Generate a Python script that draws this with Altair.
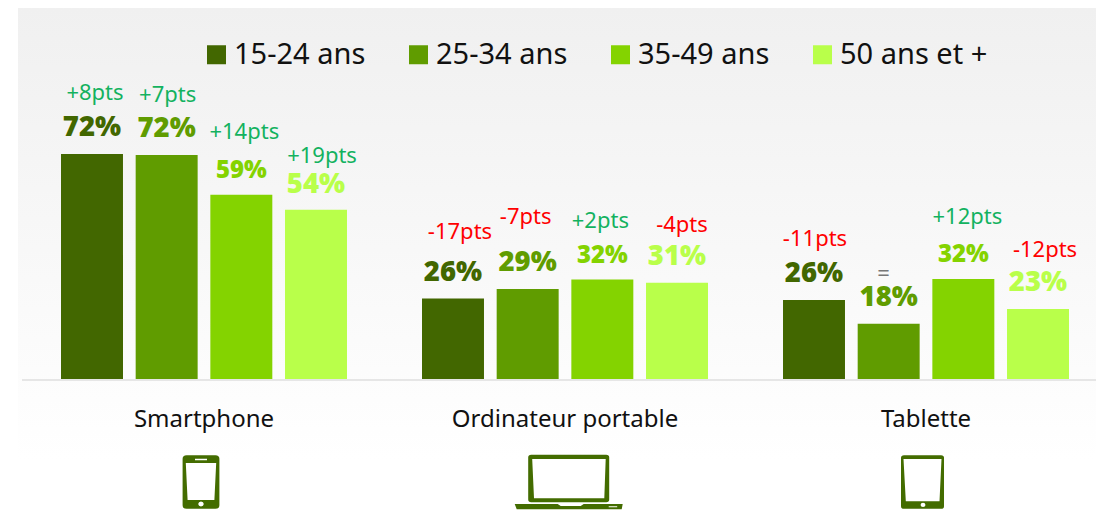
import altair as alt
import pandas as pd

categories = ["Smartphone", "Ordinateur portable", "Tablette"]
ages = ["15-24 ans", "25-34 ans", "35-49 ans", "50 ans et +"]
bar_values = [
    [72.0, 71.7, 59.0, 54.2],
    [26.0, 29.0, 32.0, 31.0],
    [25.5, 17.9, 32.2, 22.6],
]
value_labels = [
    ["72%", "72%", "59%", "54%"],
    ["26%", "29%", "32%", "31%"],
    ["26%", "18%", "32%", "23%"],
]
delta_labels = [
    ["+8pts", "+7pts", "+14pts", "+19pts"],
    ["-17pts", "-7pts", "+2pts", "-4pts"],
    ["-11pts", "=", "+12pts", "-12pts"],
]
colors = ["#426700", "#609C00", "#84D300", "#B9FF4A"]

# label placement relative to the top / centre of each bar, in pixels
value_gap = [[26, 26, 24, 25], [25, 26, 24, 26], [26, 26, 24, 26]]
value_dx = [[0, 0, 0, 0], [0, 0, 0, 0], [0, 0, 0, 0]]
value_size = [27.5, 27.5, 24, 27.5]
delta_gap = [[61, 60, 63, 54], [66, 72, 59, 58], [61, 50, 62, 59]]
delta_dx = [[3, 1, 3, 6], [7, -2, -2, 5], [1, -5, 4, 7]]

rows = []
for c, cat in enumerate(categories):
    for a, age in enumerate(ages):
        rows.append({"cat": cat, "age": age, "val": bar_values[c][a]})
df = pd.DataFrame(rows)

FONT = "Noto Sans"
x_enc = alt.X("cat:N", sort=categories, title=None,
              scale=alt.Scale(domain=categories, range=[53, 1061], paddingInner=0.2078, paddingOuter=0),
              axis=alt.Axis(domain=False, ticks=False, labelAngle=0, labelFont=FONT, labelFontSize=24,
                            labelColor="#111111", labelPadding=27, grid=False, zindex=1, labelLimit=400))
xo_enc = alt.XOffset("age:N", sort=ages,
                     scale=alt.Scale(domain=ages, paddingInner=0.17, paddingOuter=0))
y_enc = alt.Y("val:Q", title=None, axis=None, scale=alt.Scale(domain=[0, 118.5], range=[372, 0], nice=False))

layers = []

bg = alt.Chart(pd.DataFrame({"k": [0]})).mark_rect(
    color=alt.Gradient(gradient="linear", x1=0, x2=0, y1=0, y2=1,
                       stops=[alt.GradientStop(color="#F0F0F0", offset=0),
                              alt.GradientStop(color="#FFFFFF", offset=1)])
).encode(x=alt.value(10), x2=alt.value(1088), y=alt.value(0), y2=alt.value(452))
layers.append(bg)

bars = alt.Chart(df).mark_bar(cornerRadius=0).encode(
    x=x_enc, xOffset=xo_enc, y=y_enc,
    color=alt.Color("age:N", sort=ages,
                    scale=alt.Scale(domain=ages, range=colors),
                    legend=alt.Legend(orient="none", legendX=194, legendY=32, direction="horizontal",
                                      title=None, symbolType="square", symbolSize=361, symbolStrokeWidth=0,
                                      labelFont=FONT, labelFontSize=29, labelColor="#111111",
                                      labelOffset=3, columnPadding=38, columns=4, labelLimit=300)),
)
layers.append(bars)

base_line = alt.Chart(pd.DataFrame({"val": [0]})).mark_rule(color="#E6E6E6", strokeWidth=2).encode(
    y=alt.Y("val:Q", scale=alt.Scale(domain=[0, 118.5], range=[372, 0], nice=False), axis=None, title=None),
    x=alt.value(14), x2=alt.value(1088))
layers.append(base_line)

for c, cat in enumerate(categories):
    for a, age in enumerate(ages):
        one = pd.DataFrame([{"cat": cat, "age": age, "val": bar_values[c][a],
                             "vl": value_labels[c][a], "dl": delta_labels[c][a]}])
        layers.append(alt.Chart(one).mark_text(
            font="Open Sans", fontWeight=800, fontSize=value_size[a], color=colors[a], baseline="middle",
            dx=value_dx[c][a], dy=-value_gap[c][a]
        ).encode(x=x_enc, xOffset=xo_enc, y=y_enc, text="vl:N"))
        d = delta_labels[c][a]
        col = "#777777" if d == "=" else ("#13B25F" if d.startswith("+") else "#FF0000")
        layers.append(alt.Chart(one).mark_text(
            font=FONT, fontSize=22, color=col, baseline="middle",
            dx=delta_dx[c][a], dy=-delta_gap[c][a]
        ).encode(x=x_enc, xOffset=xo_enc, y=y_enc, text="dl:N"))

YS = 0.88  # icons are squeezed a little to stay inside the page


def P(pts):
    return "M" + "L".join(f"{x / 50:.4f},{y * YS / 50:.4f}" for x, y in pts) + "Z"


def rrect(hw, hh, r, cx=0, cy=0):
    x0, x1, y0, y1 = cx - hw, cx + hw, cy - hh, cy + hh
    s = lambda v: f"{v / 50:.4f}"
    t = lambda v: f"{v * YS / 50:.4f}"
    return (f"M{s(x0 + r)},{t(y0)}L{s(x1 - r)},{t(y0)}Q{s(x1)},{t(y0)},{s(x1)},{t(y0 + r)}"
            f"L{s(x1)},{t(y1 - r)}Q{s(x1)},{t(y1)},{s(x1 - r)},{t(y1)}"
            f"L{s(x0 + r)},{t(y1)}Q{s(x0)},{t(y1)},{s(x0)},{t(y1 - r)}"
            f"L{s(x0)},{t(y0 + r)}Q{s(x0)},{t(y0)},{s(x0 + r)},{t(y0)}Z")


def dot(cx, cy, r):
    return P([(cx - r, cy), (cx - .7 * r, cy + .7 * r), (cx, cy + r), (cx + .7 * r, cy + .7 * r),
              (cx + r, cy), (cx + .7 * r, cy - .7 * r), (cx, cy - r), (cx - .7 * r, cy - .7 * r)])


phone = (rrect(18.4, 30.3, 4)
         + P([(-15.2, -21.6), (-13.4, 20.4), (13.4, 20.4), (15.2, -21.6)])
         + P([(-6, -26.3), (-6, -24.7), (6, -24.7), (6, -26.3)])
         + dot(0, 25, 2.8))
laptop = (rrect(40.5, 27, 3, 0, -4)
          + P([(-36.5, -26), (-34.7, 18.5), (35.6, 18.5), (37, -26)])
          + P([(-54, 25), (-11, 25), (-8, 27.3), (12, 27.3), (15, 25), (54, 25), (53, 31), (-52, 31)])
          + P([(40, 27.6), (40, 28.6), (48.5, 28.6), (48.5, 27.6)]))
tablet = (rrect(21.5, 30.5, 3)
          + P([(-19, -26), (-16.7, 22), (17, 22), (19, -26)])
          + dot(0.5, 26, 2.5))
icons = [phone, laptop, tablet]
icon_dx = [-3, 3.7, -3.5]

for cat, path, idx in zip(categories, icons, icon_dx):
    layers.append(alt.Chart(pd.DataFrame({"cat": [cat]})).mark_point(
        shape=path, size=10000, filled=True, color="#436C00", opacity=1, strokeWidth=0, xOffset=idx
    ).encode(x=x_enc, y=alt.value(474)))

chart = alt.layer(*layers).properties(
    width=1088, height=372, background="white",
    padding={"left": 0, "top": 0, "right": 0, "bottom": 130},
    autosize=alt.AutoSizeParams(type="none"),
).configure_view(stroke=None)

chart.save("out.html", embed_options={"renderer": "svg", "actions": False})
